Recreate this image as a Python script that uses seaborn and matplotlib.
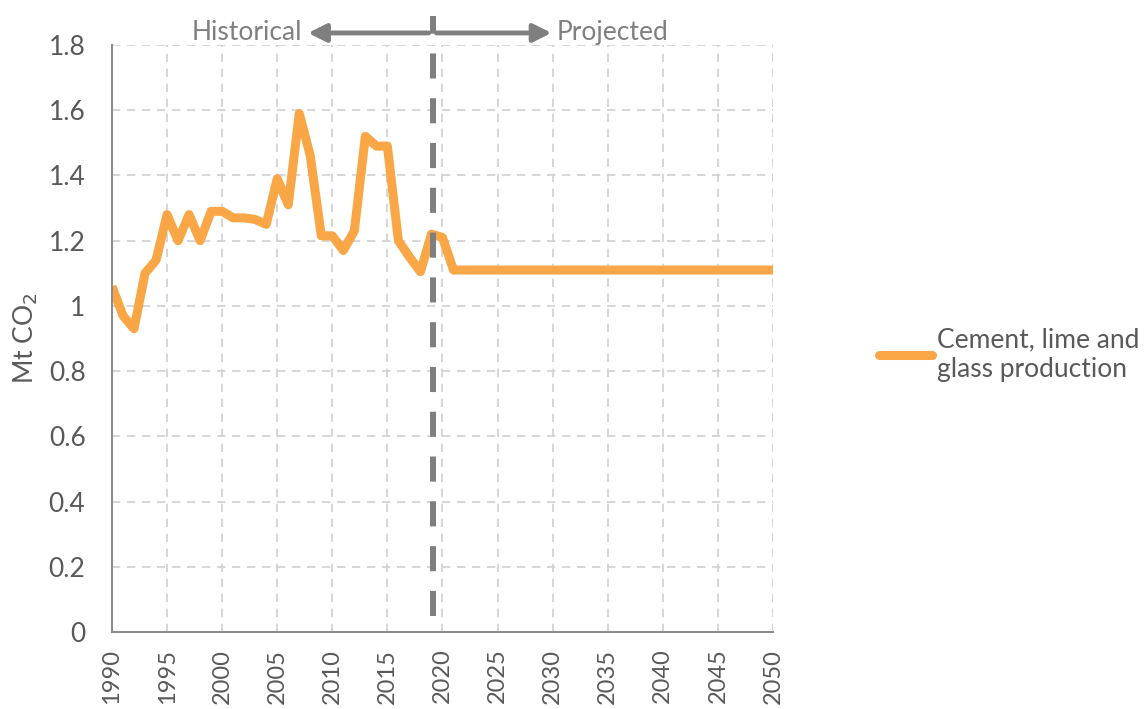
import numpy as np
import pandas as pd
import matplotlib
matplotlib.use("Agg")
import matplotlib.pyplot as plt
import seaborn as sns

# Emissions series (Mt CO2), historical 1990-2020 then flat projection to 2050
hist_years = list(range(1990, 2021))
hist_values = [1.06, 0.97, 0.93, 1.10, 1.14, 1.28, 1.20, 1.28, 1.20, 1.29,
               1.29, 1.27, 1.27, 1.265, 1.25, 1.39, 1.31, 1.59, 1.46, 1.215,
               1.215, 1.17, 1.23, 1.52, 1.49, 1.49, 1.20, 1.15, 1.105, 1.22,
               1.21]
proj_years = list(range(2021, 2051))
proj_values = [1.11] * len(proj_years)

series_name = "Cement, lime and\nglass production"
y_label = "Mt CO$_2$"
divider_year = 2019.1
x_ticks = list(range(1990, 2051, 5))
y_ticks = [0, 0.2, 0.4, 0.6, 0.8, 1, 1.2, 1.4, 1.6, 1.8]
y_tick_labels = ["0", "0.2", "0.4", "0.6", "0.8", "1", "1.2", "1.4", "1.6", "1.8"]

df = pd.DataFrame({
    "year": hist_years + proj_years,
    "value": hist_values + proj_values,
    "series": series_name,
})

sns.set_theme(style="white")
plt.rcParams["font.family"] = ["Lato", "DejaVu Sans"]

text_grey = "#595959"
orange = "#F9A646"
divider_grey = "#7f7f7f"
fs = 19

fig = plt.figure(figsize=(11.46, 7.09), dpi=100)
ax = fig.add_axes([0.0977, 0.1086, 0.5768, 0.8279])

sns.lineplot(data=df, x="year", y="value", hue="series",
             palette=[orange], linewidth=6.5, ax=ax,
             solid_capstyle="butt", solid_joinstyle="round")

ax.set_xlim(1990, 2050)
ax.set_ylim(0, 1.8)
ax.set_xticks(x_ticks)
ax.set_xticklabels([str(t) for t in x_ticks], rotation=90)
ax.set_yticks(y_ticks)
ax.set_yticklabels(y_tick_labels)
ax.tick_params(axis="both", length=0, labelcolor=text_grey)
ax.tick_params(axis="y", pad=19, labelsize=fs)
ax.tick_params(axis="x", pad=12, labelsize=17)
ax.set_xlabel("")
ax.set_ylabel(y_label, fontsize=fs, color=text_grey, labelpad=6)

ax.grid(True, color="#d0d0d0", linestyle=(0, (5, 4)), linewidth=1.2)
for side in ("top", "right"):
    ax.spines[side].set_visible(False)
for side in ("left", "bottom"):
    ax.spines[side].set_color("#8c8c8c")
    ax.spines[side].set_linewidth(1.5)

# Historical / projected divider
ax.plot([divider_year, divider_year], [0.05, 1.89], color=divider_grey,
        linewidth=4.3, linestyle=(0, (4.2, 3.3)), clip_on=False, zorder=5)

arrow_y = 1.837
ax.annotate("", xy=(2007.8, arrow_y), xytext=(divider_year - 0.35, arrow_y),
            arrowprops=dict(arrowstyle="-|>,head_length=0.9,head_width=0.45",
                            color=divider_grey, lw=3.5, shrinkA=0, shrinkB=0),
            annotation_clip=False)
ax.annotate("", xy=(2029.9, arrow_y), xytext=(divider_year + 0.35, arrow_y),
            arrowprops=dict(arrowstyle="-|>,head_length=0.9,head_width=0.45",
                            color=divider_grey, lw=3.5, shrinkA=0, shrinkB=0),
            annotation_clip=False)
ax.text(2007.3, arrow_y, "Historical", ha="right", va="center",
        fontsize=fs, color=divider_grey)
ax.text(2030.4, arrow_y, "Projected", ha="left", va="center",
        fontsize=fs, color=divider_grey)

leg = ax.legend(loc="center left", bbox_to_anchor=(0.767, 0.5),
                bbox_transform=fig.transFigure, frameon=False,
                borderaxespad=0, borderpad=0,
                fontsize=fs, handlelength=2.0, handletextpad=0.18,
                labelcolor=text_grey)
for line in leg.get_lines():
    line.set_linewidth(6.5)
    line.set_solid_capstyle("round")

fig.savefig("out.png", dpi=100)
